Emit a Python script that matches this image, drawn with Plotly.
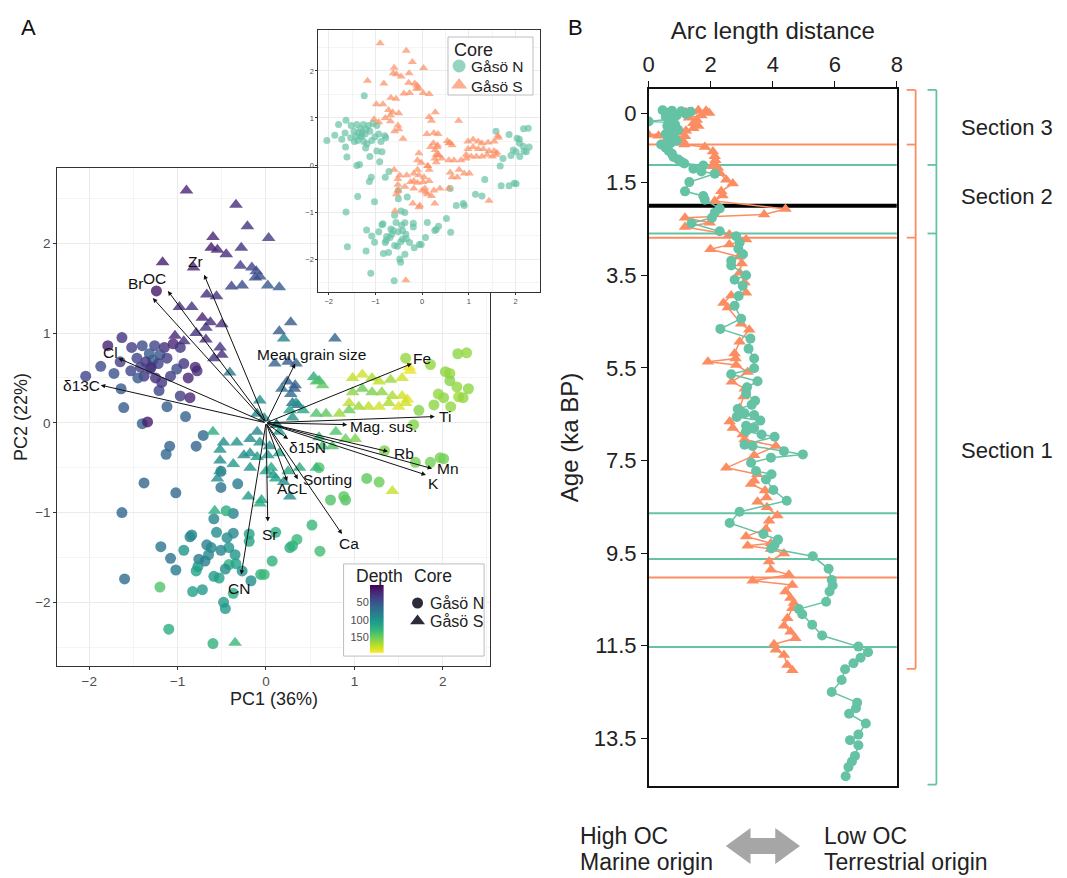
import plotly.graph_objects as go

W, H = 1067, 878
def fx(X): return X / W
def fy(Y): return 1 - Y / H

FONT = "Liberation Sans, Arial, sans-serif"
GREEN = "#66C2A5"
ORANGE = "#FC8D62"
KEY = "#2B2B3A"

# ---------------- Panel A data (PCA scores) ----------------
n_pc1 = [-1.24,-1.63,-1.79,-1.52,-1.40,-1.26,-1.15,-1.05,-0.97,-1.32,-1.20,-1.28,-1.22,-1.12,-1.36,-1.46,-1.65,-1.87,-2.04,-1.53,-1.38,-1.25,-1.18,-1.08,-1.01,-0.93,-0.88,-0.78,-0.80,-0.86,-0.97,-1.21,-1.31,-1.45,-1.64,-1.61,-1.12,-0.91,-1.40,-1.34,-1.30,-1.42,-1.72,
         -0.71,-1.09,-1.13,-0.79,-1.38,-1.02,-1.63,-1.60,-0.51,-0.51,-0.32,
         -0.59,-0.37,-0.45,-0.56,-0.86,-0.84,-0.37,-0.44,-0.19,-0.19,-1.19,-0.93,-0.67,-0.62,-0.51,-0.42,-1.08,-0.76,-0.69,-0.65,-0.77,-0.35,-0.42,-0.34,-1.02,-0.79,-0.46,-0.59,-0.53,-0.27,-0.17,-0.06,-0.02,-1.20,-0.83,-0.72,-0.37,-0.48,-0.46,-1.10,-0.60,
         1.14,1.28,0.73,0.90,0.88,0.52,0.35,0.27,0.30,0.61,0.07,0.11,0.60,1.34,
         1.58,1.86,2.17,2.27,2.03,2.08,2.08,2.16,2.29,2.18,2.23,2.01,1.95,1.90,2.09,1.73,1.67,1.86,1.97,1.69,2.01]
n_pc2 = [1.47,0.95,0.86,0.84,0.86,0.86,0.84,0.88,0.84,0.77,0.76,0.70,0.66,0.72,0.68,0.72,0.68,0.63,0.52,0.58,0.52,0.50,0.45,0.52,0.60,0.66,0.50,0.58,0.62,0.28,0.30,0.36,0.60,0.50,0.38,0.17,0.18,0.07,-0.01,0.01,0.62,0.62,0.55,
         -0.14,-0.26,-0.35,-0.26,-0.67,-0.78,-1.00,-1.74,-0.54,-0.72,-0.68,
         -1.07,-1.01,-0.98,-1.22,-1.27,-1.25,-1.23,-1.28,-1.24,-1.32,-1.38,-1.42,-1.36,-1.39,-1.42,-1.39,-1.51,-1.52,-1.54,-1.47,-1.60,-1.47,-1.58,-1.57,-1.64,-1.65,-1.63,-1.71,-1.73,-1.65,-1.76,-1.69,-1.69,-1.83,-1.88,-1.86,-1.90,-2.00,-2.07,-2.30,-2.46,
         -0.62,-0.66,-0.86,-0.86,-0.82,-1.14,-1.30,-1.39,-1.37,-1.43,-1.54,-1.22,-0.50,-0.31,
         0.72,0.65,0.77,0.78,0.57,0.55,0.47,0.40,0.38,0.29,0.28,0.28,0.32,0.20,0.18,0.14,-0.02,-0.44,-0.39,-0.44,-0.40]
n_depth = [12,30,18,35,45,40,25,20,30,55,50,60,40,35,30,40,35,45,40,40,30,25,30,35,45,30,20,25,20,20,35,40,45,55,55,55,58,60,60,15,25,35,50,
           65,60,65,62,62,65,65,68,70,72,80,
           88,85,120,95,85,90,90,95,110,112,75,100,85,90,88,100,72,80,82,90,105,100,125,110,80,110,95,105,110,100,95,125,130,140,110,105,120,105,105,120,125,
           145,150,140,140,145,130,130,120,125,135,125,120,140,155,
           162,162,160,162,160,162,158,162,160,166,162,160,162,160,162,158,158,152,154,152,152]

s_pc1 = [-0.90,-0.34,-0.21,-0.60,0.03,-0.62,-0.55,-0.45,-0.28,-1.17,-0.82,-0.29,-0.16,-0.11,-0.07,-0.12,0.02,0.15,-0.39,-0.27,-0.67,-0.56,-0.98,-0.84,-0.72,-0.63,-0.50,-0.68,-1.03,-0.93,-0.79,-0.68,-0.52,-0.50,-0.59,-0.41,
         0.15,0.28,0.20,0.78,0.10,0.25,0.34,0.24,0.33,0.32,0.28,0.30,0.36,0.18,0.54,0.60,
         -0.07,-0.10,-0.02,0.12,-0.60,-0.48,-0.52,-0.33,-0.18,-0.10,-0.07,0.04,-0.18,-0.25,-0.10,0.02,0.15,-0.52,-0.52,-0.37,-0.18,0.00,0.06,0.08,0.11,0.25,0.38,-0.55,-0.20,-0.05,-0.07,0.27,0.57,-0.58,-0.35,0.20,
         1.43,0.57,0.64,0.98,1.09,1.20,1.28,1.41,1.54,1.63,1.62,0.98,1.09,1.20,1.31,1.43,1.54,1.60,0.94,1.05,1.16,1.28,1.39,1.50,1.58,0.57,0.68,0.83,0.94,0.79,0.90,1.01,0.60,0.64,0.75,0.27,0.34,0.42,0.30,0.12,0.15]
s_pc2 = [2.59,2.43,2.19,2.07,2.06,1.95,1.93,1.88,1.95,1.79,1.73,1.75,1.73,1.69,1.63,1.62,1.53,1.51,1.52,1.53,1.43,1.41,1.29,1.29,1.17,1.12,1.10,1.06,0.97,0.91,1.00,0.93,0.84,0.76,0.72,0.56,
         1.02,1.12,0.94,0.94,0.66,0.68,0.66,0.46,0.42,0.38,0.32,0.22,0.20,0.38,0.51,0.47,
         0.25,0.10,0.05,-0.02,-0.10,-0.22,-0.30,-0.22,-0.18,-0.10,-0.22,-0.26,-0.34,-0.36,-0.38,-0.36,-0.34,-0.42,-0.54,-0.46,-0.50,-0.54,-0.50,-0.58,-0.62,-0.54,-0.50,-0.62,-0.82,-0.86,-0.90,-0.82,-0.50,-0.98,-2.45,-0.66,
         -0.76,0.46,0.42,0.50,0.54,0.50,0.46,0.48,0.50,0.58,0.62,0.34,0.38,0.34,0.34,0.30,0.30,0.26,0.22,0.18,0.18,0.18,0.22,0.18,0.22,0.10,0.10,0.10,0.14,-0.10,-0.18,-0.18,-0.16,-0.26,-0.26,0.14,0.22,0.14,0.06,-0.02,-0.10]
s_depth = [20,25,30,20,35,15,20,25,30,15,20,35,40,45,50,45,55,55,40,45,25,30,25,30,20,25,25,30,20,25,30,25,30,25,30,80,
           55,55,85,60,60,55,60,60,60,55,65,70,60,70,120,125,
           95,90,95,90,120,95,100,100,95,90,100,95,100,95,105,100,110,95,100,105,100,110,115,105,110,115,120,95,105,110,120,95,130,120,130,95,
           178,140,145,175,180,170,175,165,180,188,190,160,150,155,160,170,180,185,175,165,175,180,170,185,180,140,145,165,150,140,150,155,130,135,140,110,105,115,100,100,105]

# loadings (arrow tips) and label positions
var_names = ["Br","OC","Zr","Cl","δ13C","Mean grain size","Fe","Ti","Mag. sus.","Rb","Mn","K","δ15N","Sorting","ACL","Ca","Sr","CN"]
var_pc1   = [-1.28,-1.11,-0.70,-1.67,-1.87,0.33,1.65,1.91,0.92,1.38,1.88,1.81,0.25,0.36,0.24,0.86,0.02,-0.28]
var_pc2   = [1.39,1.47,1.65,0.72,0.42,0.66,0.66,0.07,-0.02,-0.32,-0.51,-0.58,-0.18,-0.63,-0.65,-1.24,-1.10,-1.69]
lab_pc1   = [-1.47,-1.26,-0.80,-1.76,-2.09,0.51,1.77,2.03,1.33,1.56,2.06,1.90,0.47,0.70,0.30,0.94,0.04,-0.31]
lab_pc2   = [1.55,1.61,1.80,0.78,0.42,0.76,0.72,0.07,-0.04,-0.34,-0.51,-0.68,-0.28,-0.63,-0.73,-1.34,-1.25,-1.85]

depth_levels = list(range(0, 195))
depth_ticks = [50, 100, 150]
core_names = ["Gåsö N", "Gåsö S"]

# ---------------- Panel B data ----------------
n_age = [-0.06,-0.05,-0.04,-0.03,0.00,0.02,0.05,0.08,0.12,0.18,0.20,0.25,0.28,0.32,0.36,0.40,0.45,0.50,0.55,0.60,0.65,0.68,0.75,0.82,0.88,0.95,1.00,1.05,1.09,1.13,1.20,1.26,1.31,1.49,1.69,1.79,1.87,2.06,2.15,2.26,2.38,2.55,2.66,2.80,2.93,3.05,3.19,3.29,3.50,3.60,3.73,3.95,4.16,4.44,4.66,4.87,5.09,5.30,5.51,5.64,5.79,5.92,6.06,6.21,6.30,6.39,6.48,6.52,6.56,6.64,6.75,6.80,6.87,6.94,6.99,7.16,7.19,7.30,7.37,7.44,7.55,7.73,7.80,7.91,8.14,8.37,8.61,8.85,9.09,9.21,9.32,9.40,9.57,9.84,10.08,10.20,10.33,10.55,10.71,10.82,11.05,11.28,11.52,11.64,11.76,11.88,12.01,12.24,12.50,12.73,12.85,12.97,13.18,13.42,13.54,13.65,13.88,14.00,14.12,14.32]
n_arc = [0.45,0.75,1.05,1.35,0.60,1.20,0.90,0.55,0.80,0.00,0.65,0.85,0.60,0.75,0.95,0.70,0.55,0.80,0.65,0.90,0.70,0.40,0.55,0.65,0.75,0.80,0.95,1.05,1.15,1.76,1.44,1.70,2.13,1.31,1.17,1.76,1.81,2.29,2.13,2.04,1.38,2.29,2.82,2.93,2.89,3.04,2.66,2.66,3.14,2.77,3.03,2.90,2.77,2.98,2.31,3.28,3.22,3.40,3.40,2.66,3.51,3.17,3.14,3.43,3.32,2.87,3.09,3.40,2.84,3.60,3.14,3.40,3.14,3.64,4.06,3.09,3.35,4.36,4.97,3.94,3.30,3.46,3.96,3.78,4.02,4.45,2.93,2.61,3.70,4.17,4.06,3.95,5.29,5.80,5.90,5.93,5.83,5.72,4.84,4.95,5.27,5.59,6.76,7.07,6.83,6.60,6.33,6.22,5.90,6.72,6.68,6.46,7.00,6.76,6.49,6.76,6.65,6.55,6.44,6.35]
s_age = [-0.06,-0.05,-0.03,-0.02,0.00,0.05,0.10,0.15,0.22,0.28,0.33,0.38,0.42,0.47,0.49,0.50,0.55,0.60,0.68,0.73,0.83,0.93,1.02,1.10,1.15,1.18,1.30,1.44,1.52,1.69,1.78,1.90,2.07,2.19,2.26,2.37,2.46,2.62,2.73,2.84,2.94,3.10,3.25,3.45,3.66,3.88,3.94,4.10,4.20,4.55,4.68,4.94,5.19,5.30,5.37,5.44,5.59,5.80,5.95,6.12,6.37,6.66,6.80,6.94,7.05,7.19,7.39,7.66,7.80,7.94,8.01,8.15,8.30,8.39,8.51,8.69,8.80,8.98,9.14,9.29,9.34,9.41,9.51,9.68,9.86,9.97,10.10,10.19,10.33,10.47,10.58,10.69,10.91,11.07,11.20,11.34,11.47,11.59,11.70,11.92,12.03]
s_arc = [1.60,1.85,1.40,1.20,1.95,1.70,1.30,1.55,1.44,1.60,1.44,1.20,1.00,0.00,0.32,1.17,0.60,1.10,1.15,1.81,2.07,2.13,2.15,2.10,2.07,2.23,2.30,2.50,2.71,2.34,2.38,2.13,4.41,3.72,1.17,1.97,1.17,2.60,3.14,2.60,1.99,2.90,3.00,2.93,3.09,3.14,2.66,2.41,2.55,2.98,3.24,2.93,2.77,2.80,1.91,2.82,3.19,2.68,3.10,3.06,2.93,2.61,2.71,3.03,3.09,4.10,3.40,2.50,3.50,3.40,3.30,3.75,3.80,3.51,3.81,4.15,3.88,3.78,3.14,3.94,3.19,3.94,4.36,3.88,3.94,4.52,3.35,4.63,4.41,4.57,4.68,4.63,4.47,4.36,4.57,4.73,4.04,4.10,4.36,4.47,4.63]

age_ticks = [0, 1.5, 3.5, 5.5, 7.5, 9.5, 11.5, 13.5]
arc_ticks = [0, 2, 4, 6, 8]
n_break_ages = [1.12, 2.60, 8.64, 9.63, 11.53]
s_break_ages = [0.68, 2.69, 10.03]
black_break_age = 2.0
n_section_bounds = [-0.5, 1.12, 2.60, 14.5]
s_section_bounds = [-0.5, 0.68, 2.69, 12.0]
section_names = ["Section 3", "Section 2", "Section 1"]
section_label_ages = [0.32, 1.81, 7.29]

# ---------------- axis ranges ----------------
main_xr = [-2.36, 2.54]
main_yr = [-2.71, 2.84]
inset_xr = [-2.22, 2.52]
inset_yr = [-2.70, 2.87]
arc_range = [0, 8]
age_range = [14.53, -0.52]

fig = go.Figure()

mk_common = dict(colorscale="Viridis", cmin=0, cmax=194, opacity=0.8, line=dict(width=0))
fig.add_trace(go.Scatter(x=n_pc1, y=n_pc2, mode="markers", xaxis="x", yaxis="y",
                         marker=dict(symbol="circle", size=11, color=n_depth, **mk_common),
                         showlegend=False, hoverinfo="skip"))
fig.add_trace(go.Scatter(x=s_pc1, y=s_pc2, mode="markers", xaxis="x", yaxis="y",
                         marker=dict(symbol="triangle-up", size=12, color=s_depth, **mk_common),
                         showlegend=False, hoverinfo="skip"))

# inset
fig.add_trace(go.Scatter(x=n_pc1, y=n_pc2, mode="markers", xaxis="x2", yaxis="y2",
                         marker=dict(symbol="circle", size=7, color=GREEN, opacity=0.7, line=dict(width=0)),
                         showlegend=False, hoverinfo="skip"))
fig.add_trace(go.Scatter(x=s_pc1, y=s_pc2, mode="markers", xaxis="x2", yaxis="y2",
                         marker=dict(symbol="triangle-up", size=8, color=ORANGE, opacity=0.7, line=dict(width=0)),
                         showlegend=False, hoverinfo="skip"))

# legend keys (one legend per key so they can be placed like the reference)
fig.add_trace(go.Scatter(x=[None], y=[None], mode="markers", name=" ", xaxis="x", yaxis="y",
                         marker=dict(symbol="circle", size=11, color=KEY), legend="legend"))
fig.add_trace(go.Scatter(x=[None], y=[None], mode="markers", name=" ", xaxis="x", yaxis="y",
                         marker=dict(symbol="triangle-up", size=13, color=KEY), legend="legend3"))
fig.add_trace(go.Scatter(x=[None], y=[None], mode="markers", name=" ", xaxis="x2", yaxis="y2",
                         marker=dict(symbol="circle", size=13, color=GREEN, opacity=0.7), legend="legend2"))
fig.add_trace(go.Scatter(x=[None], y=[None], mode="markers", name=" ", xaxis="x2", yaxis="y2",
                         marker=dict(symbol="triangle-up", size=14, color=ORANGE, opacity=0.7), legend="legend4"))

# legend box backing subplot
fig.add_trace(go.Scatter(x=[None], y=[None], xaxis="x3", yaxis="y3", showlegend=False, hoverinfo="skip"))

# panel B
fig.add_trace(go.Scatter(x=s_arc, y=s_age, mode="lines+markers", xaxis="x4", yaxis="y4",
                         line=dict(color=ORANGE, width=1.5),
                         marker=dict(symbol="triangle-up", size=11, color=ORANGE),
                         showlegend=False, hoverinfo="skip"))
fig.add_trace(go.Scatter(x=n_arc, y=n_age, mode="lines+markers", xaxis="x4", yaxis="y4",
                         line=dict(color=GREEN, width=1.5),
                         marker=dict(symbol="circle", size=10, color=GREEN),
                         showlegend=False, hoverinfo="skip"))

# depth colour bar (heatmap)
fig.add_trace(go.Heatmap(z=[[d] for d in depth_levels], x=[0], y=depth_levels, colorscale="Viridis",
                         zmin=0, zmax=194, showscale=False, xaxis="x5", yaxis="y5", hoverinfo="skip"))

grid = "#EBEBEB"
main_ax = dict(showgrid=True, gridcolor=grid, gridwidth=1, zeroline=False,
               minor=dict(dtick=0.5, showgrid=True, gridcolor="#F4F4F4", gridwidth=0.8),
               showline=True, mirror=True, linecolor="#333333", linewidth=1.2,
               ticks="outside", ticklen=3, tickcolor="#333333",
               tickfont=dict(size=13.5, color="#4D4D4D"), dtick=1, tick0=0)

inset_ax = dict(showgrid=True, gridcolor=grid, gridwidth=1, zeroline=False,
                minor=dict(dtick=0.5, showgrid=True, gridcolor="#F4F4F4", gridwidth=0.8),
                showline=True, mirror=True, linecolor="#333333", linewidth=1.2,
                ticks="outside", ticklen=2, tickcolor="#333333",
                tickfont=dict(size=7.5, color="#4D4D4D"), dtick=1, tick0=0)

b_ax = dict(showgrid=False, zeroline=False, showline=True, mirror=True, linecolor="#111111",
            linewidth=1.5, ticks="outside", ticklen=6, tickcolor="#111111",
            tickfont=dict(size=22, color="#222222"))

def key_legend(X, Y):
    return dict(x=fx(X - 20), y=fy(Y), xanchor="left", yanchor="middle", bgcolor="rgba(0,0,0,0)",
                borderwidth=0, font=dict(size=10), itemwidth=30, tracegroupgap=0)

fig.update_layout(
    width=W, height=H, autosize=False,
    margin=dict(l=0, r=0, t=0, b=0),
    paper_bgcolor="white", plot_bgcolor="white",
    font=dict(family=FONT, color="#222222"),
    xaxis=dict(domain=[fx(52), fx(490)], range=main_xr, anchor="y",
               title=dict(text="PC1 (36%)", font=dict(size=18, color="#222222"), standoff=2), **main_ax),
    yaxis=dict(domain=[fy(666), fy(168)], range=main_yr, anchor="x",
               title=dict(text="PC2 (22%)", font=dict(size=18, color="#222222"), standoff=2), **main_ax),
    xaxis2=dict(domain=[fx(316), fx(540)], range=inset_xr, anchor="y2", **inset_ax),
    yaxis2=dict(domain=[fy(292), fy(30)], range=inset_yr, anchor="x2", **inset_ax),
    xaxis3=dict(domain=[fx(340), fx(485)], range=[-0.01, 1.01], anchor="y3", visible=False),
    yaxis3=dict(domain=[fy(657), fy(563)], range=[-0.01, 1.01], anchor="x3", visible=False),
    xaxis4=dict(domain=[fx(650), fx(901)], range=arc_range, anchor="y4", side="top",
                tickvals=arc_ticks,
                title=dict(text="Arc length distance", font=dict(size=24, color="#222222"), standoff=6), **b_ax),
    yaxis4=dict(domain=[fy(786), fy(89)], range=age_range, anchor="x4",
                tickvals=age_ticks, ticktext=[str(a) for a in age_ticks],
                title=dict(text="Age (ka BP)", font=dict(size=24, color="#222222"), standoff=8), **b_ax),
    xaxis5=dict(domain=[fx(368), fx(382)], range=[-0.5, 0.5], anchor="y5", visible=False),
    yaxis5=dict(domain=[fy(653), fy(585)], range=[194, 0], anchor="x5", showgrid=False, zeroline=False,
                showline=False, tickvals=depth_ticks, ticks="", tickfont=dict(size=11, color="#4D4D4D")),
    legend=key_legend(416, 603),
    legend3=key_legend(416, 621),
    legend2=key_legend(458, 66),
    legend4=key_legend(458, 85),
)

shapes = []
# white background of inset covering main panel
shapes.append(dict(type="rect", xref="x2", yref="y2", x0=inset_xr[0], x1=inset_xr[1],
                   y0=inset_yr[0], y1=inset_yr[1], fillcolor="white", line=dict(width=0), layer="below"))
# main legend box
shapes.append(dict(type="rect", xref="x3", yref="y3", x0=0, x1=1, y0=0, y1=1,
                   fillcolor="white", line=dict(color="#BDBDBD", width=1), layer="below"))
# inset legend box
shapes.append(dict(type="rect", xref="paper", yref="paper", x0=fx(447), x1=fx(533), y0=fy(95), y1=fy(37),
                   fillcolor="white", line=dict(color="#BDBDBD", width=1), layer="above"))
# boundary lines panel B
for a in n_break_ages:
    shapes.append(dict(type="line", xref="x4", yref="y4", x0=arc_range[0], x1=arc_range[1], y0=a, y1=a,
                       line=dict(color=GREEN, width=2), layer="below"))
for a in s_break_ages:
    shapes.append(dict(type="line", xref="x4", yref="y4", x0=arc_range[0], x1=arc_range[1], y0=a, y1=a,
                       line=dict(color=ORANGE, width=2), layer="below"))
shapes.append(dict(type="line", xref="x4", yref="y4", x0=arc_range[0], x1=arc_range[1],
                   y0=black_break_age, y1=black_break_age, line=dict(color="black", width=4), layer="below"))
# brackets
def bracket(bounds, xv, xt, color):
    out = [dict(type="line", xref="paper", yref="y4", x0=fx(xv), x1=fx(xv), y0=bounds[0], y1=bounds[-1],
                line=dict(color=color, width=1.8))]
    for b in bounds:
        out.append(dict(type="line", xref="paper", yref="y4", x0=fx(xt), x1=fx(xv), y0=b, y1=b,
                        line=dict(color=color, width=1.8)))
    return out
shapes += bracket(s_section_bounds, 920, 911, ORANGE)
shapes += bracket(n_section_bounds, 941, 932, GREEN)
# double arrow at bottom
pts = [(728, 846), (753, 828), (753, 838), (778, 838), (778, 828), (803, 846),
       (778, 864), (778, 854), (753, 854), (753, 864)]
path = "M " + " L ".join(f"{fx(x):.5f},{fy(y):.5f}" for x, y in pts) + " Z"
shapes.append(dict(type="path", xref="paper", yref="paper", path=path, fillcolor="#A6A6A6",
                   line=dict(width=0)))
fig.update_layout(shapes=shapes)

ann = []
for nm, tx, ty, lx, ly in zip(var_names, var_pc1, var_pc2, lab_pc1, lab_pc2):
    ann.append(dict(x=tx, y=ty, ax=0, ay=0, xref="x", yref="y", axref="x", ayref="y",
                    showarrow=True, arrowhead=2, arrowsize=0.9, arrowwidth=1, arrowcolor="#111111",
                    text="", standoff=0))
    ann.append(dict(x=lx, y=ly, xref="x", yref="y", text=nm, showarrow=False,
                    font=dict(size=15.5, color="#111111"), xanchor="center", yanchor="middle"))
# main legend texts
ann.append(dict(x=fx(352), y=fy(576), xref="paper", yref="paper", text="Depth", showarrow=False,
                xanchor="left", yanchor="middle", font=dict(size=17.5, color="#222222")))
ann.append(dict(x=fx(411), y=fy(576), xref="paper", yref="paper", text="Core", showarrow=False,
                xanchor="left", yanchor="middle", font=dict(size=17.5, color="#222222")))
for nm, Y in zip(core_names, [603, 621]):
    ann.append(dict(x=fx(427), y=fy(Y), xref="paper", yref="paper", text=nm, showarrow=False,
                    xanchor="left", yanchor="middle", font=dict(size=16, color="#222222")))
# inset legend texts
ann.append(dict(x=fx(451), y=fy(50), xref="paper", yref="paper", text="Core", showarrow=False,
                xanchor="left", yanchor="middle", font=dict(size=18, color="#222222")))
for nm, Y in zip(core_names, [67, 86]):
    ann.append(dict(x=fx(468), y=fy(Y), xref="paper", yref="paper", text=nm, showarrow=False,
                    xanchor="left", yanchor="middle", font=dict(size=15.5, color="#222222")))
for nm, a in zip(section_names, section_label_ages):
    ann.append(dict(x=fx(964), y=a, xref="paper", yref="y4", text=nm, showarrow=False,
                    xanchor="left", yanchor="middle", font=dict(size=22, color="#222222")))
ann.append(dict(x=fx(13), y=fy(28), xref="paper", yref="paper", text="A", showarrow=False,
                xanchor="left", yanchor="middle", font=dict(size=22, color="#111111")))
ann.append(dict(x=fx(566), y=fy(28), xref="paper", yref="paper", text="B", showarrow=False,
                xanchor="left", yanchor="middle", font=dict(size=22, color="#111111")))
for txt, X, Y in [("High OC", 579, 836), ("Marine origin", 579, 862),
                  ("Low OC", 825, 836), ("Terrestrial origin", 825, 862)]:
    ann.append(dict(x=fx(X), y=fy(Y), xref="paper", yref="paper", text=txt, showarrow=False,
                    xanchor="left", yanchor="middle", font=dict(size=23, color="#222222")))
fig.update_layout(annotations=ann)

fig.write_html("out.html")
